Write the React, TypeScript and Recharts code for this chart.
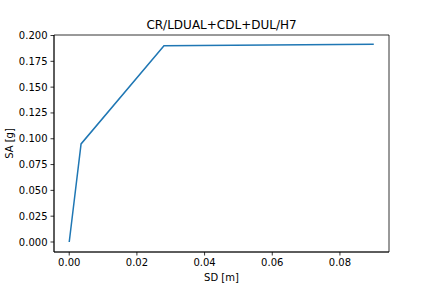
import React from 'react';
import { LineChart, Line, XAxis, YAxis, ReferenceArea } from 'recharts';

const sd = [0, 0.0035, 0.028, 0.09];
const sa = [0, 0.095, 0.19, 0.1915];
const xTicks = [0, 0.02, 0.04, 0.06, 0.08];
const yTicks = [0, 0.025, 0.05, 0.075, 0.1, 0.125, 0.15, 0.175, 0.2];
const xDomain = [-0.0045, 0.0945];
const yDomain = [-0.0097, 0.2005];

const data = sd.map((x, i) => ({ x, y: sa[i] }));

const font = 'DejaVu Sans, sans-serif';
const tickStyle = { fontSize: 10, fill: '#000', fontFamily: font };

export default function App() {
  return (
    <div style={{ position: 'fixed', left: 0, top: 0, width: 432, height: 288, background: '#fff' }}>
      <LineChart
        width={432}
        height={288}
        data={data}
        margin={{ top: 35, right: 43, left: 0, bottom: 0 }}
      >
        <XAxis
          dataKey="x"
          type="number"
          domain={xDomain}
          ticks={xTicks}
          allowDataOverflow
          height={36}
          tickSize={3.5}
          tickMargin={3}
          tickFormatter={(v: number) => v.toFixed(2)}
          tick={tickStyle}
          axisLine={{ stroke: '#000', strokeWidth: 0.8 }}
          tickLine={{ stroke: '#000', strokeWidth: 0.8 }}
          interval={0}
        />
        <YAxis
          type="number"
          domain={yDomain}
          ticks={yTicks}
          allowDataOverflow
          width={54}
          tickSize={3.5}
          tickMargin={3}
          tickFormatter={(v: number) => v.toFixed(3)}
          tick={tickStyle}
          axisLine={{ stroke: '#000', strokeWidth: 0.8 }}
          tickLine={{ stroke: '#000', strokeWidth: 0.8 }}
          interval={0}
        />
        <ReferenceArea
          x1={xDomain[0]}
          x2={xDomain[1]}
          y1={yDomain[0]}
          y2={yDomain[1]}
          fill="none"
          fillOpacity={0}
          stroke="#000"
          strokeWidth={0.8}
          strokeOpacity={1}
          ifOverflow="visible"
        />
        <Line
          dataKey="y"
          type="linear"
          stroke="#1f77b4"
          strokeWidth={1.5}
          dot={false}
          isAnimationActive={false}
        />
      </LineChart>
      <svg
        width={432}
        height={288}
        style={{ position: 'absolute', left: 0, top: 0, pointerEvents: 'none' }}
      >
        <text x={221.5} y={29} textAnchor="middle" fontSize={12} fontFamily={font} fill="#000">
          CR/LDUAL+CDL+DUL/H7
        </text>
        <text x={221.5} y={281} textAnchor="middle" fontSize={10} fontFamily={font} fill="#000">
          SD [m]
        </text>
        <text
          x={13}
          y={143.5}
          textAnchor="middle"
          fontSize={10}
          fontFamily={font}
          fill="#000"
          transform="rotate(-90 13 143.5)"
        >
          SA [g]
        </text>
      </svg>
    </div>
  );
}
